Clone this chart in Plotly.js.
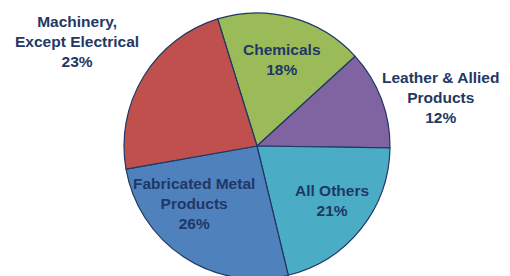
<!DOCTYPE html>
<html>
<head>
<meta charset="utf-8">
<script src="https://cdn.plot.ly/plotly-3.0.1.min.js"></script>
<style>
html,body{margin:0;padding:0;background:#fff;overflow:hidden;width:510px;height:276px;}
#chart{width:510px;height:290px;}
</style>
</head>
<body>
<div id="chart"></div>
<script>
// Data
const labels = ["Chemicals", "Leather & Allied<br>Products", "All Others", "Fabricated Metal<br>Products", "Machinery,<br>Except Electrical"];
const values = [18, 12, 21, 26, 23];
const colors = ["#9BBB59", "#8064A2", "#4BACC6", "#4F81BD", "#C0504D"];

// Label positions (pixel centres) – layout only
const labelPos = [[282, 60], [440, 97], [332, 200], [194, 203], [77, 41]];

const W = 510, H = 290, MT = 13, MB = 11;
const PH = H - MT - MB;
function px(x){ return x / W; }
function py(y){ return 1 - (y - MT) / PH; }

const annotations = labels.map((l, i) => ({
  xref: 'paper', yref: 'paper',
  x: px(labelPos[i][0]), y: py(labelPos[i][1]),
  xanchor: 'center', yanchor: 'middle',
  text: '<b>' + l + '<br>' + values[i] + '%</b>',
  showarrow: false, align: 'center',
  font: {family: 'Liberation Sans, Arial, sans-serif', size: 15.5, color: '#1F3864'}
}));

const cx = 257, r = 133;
Plotly.newPlot('chart', [{
  type: 'pie',
  labels: labels,
  values: values,
  sort: false,
  direction: 'clockwise',
  rotation: -17.2,
  textinfo: 'none',
  textposition: 'none',
  hoverinfo: 'none',
  marker: {colors: colors, line: {color: '#1F3864', width: 1.2}},
  domain: {x: [(cx - r) / W, (cx + r) / W], y: [0, 1]},
  showlegend: false
}], {
  width: W, height: H,
  margin: {l: 0, r: 0, t: MT, b: MB},
  paper_bgcolor: '#ffffff',
  showlegend: false,
  annotations: annotations
}, {staticPlot: true, displayModeBar: false});
</script>
</body>
</html>
